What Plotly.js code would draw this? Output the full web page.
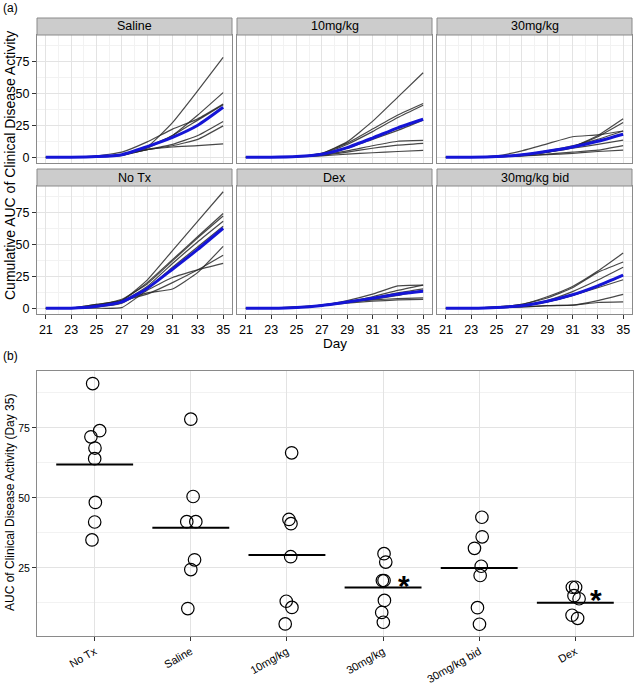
<!DOCTYPE html>
<html>
<head>
<meta charset="utf-8">
<script src="https://cdn.plot.ly/plotly-3.0.1.min.js"></script>
<style>html,body{margin:0;padding:0;background:#fff;}#chart{width:634px;height:684px;}</style>
</head>
<body>
<div id="chart"></div>
<script>
// ---------------- DATA ----------------
const days = [21, 23, 25, 27, 29, 31, 33, 35];

const panelNames = ["Saline", "10mg/kg", "30mg/kg", "No Tx", "Dex", "30mg/kg bid"];

const salineCurves = [
  [0, 0, 0.3, 1.5, 8, 27, 52, 78],
  [0, 0, 0.5, 2, 7, 17, 33, 50.5],
  [0, 0, 1, 4, 12, 22, 30, 41.5],
  [0, 0, 0.5, 2, 8, 17, 29, 41],
  [0, 0, 0.5, 2, 6, 10, 17, 28],
  [0, 0, 0.5, 1.5, 6, 9, 14, 24.5],
  [0, 0, 0.5, 2, 6, 8, 9, 10.5]
];
const salineMean = [0, 0, 0.5, 2, 8.3, 15.5, 25, 39];

const mg10Curves = [
  [0, 0, 0.5, 3, 12, 28, 47, 66],
  [0, 0, 0.5, 3, 11, 22, 33, 42],
  [0, 0, 0.5, 2.5, 10, 20, 31, 40.6],
  [0, 0, 0.5, 2, 7, 14, 21, 29],
  [0, 0, 0.5, 2, 5, 9, 12.5, 13.1],
  [0, 0, 0.5, 1.5, 4, 7, 9.5, 10.9],
  [0, 0, 0.3, 1, 2.5, 3.5, 4.5, 5.3]
];
const mg10Mean = [0, 0, 0.5, 2.3, 7.5, 15, 23, 29.7];

const mg30Curves = [
  [0, 0, 0.5, 1.5, 4, 8, 17, 30.1],
  [0, 0, 0.5, 1.5, 4, 8, 16, 27.1],
  [0, 0, 1, 5, 10.5, 16, 17.5, 20.5],
  [0, 0, 0.5, 2, 5, 9, 14, 20.5],
  [0, 0, 0.5, 2, 4, 7, 10, 13.4],
  [0, 0, 0.3, 1, 2.5, 4, 5.5, 9.1],
  [0, 0, 0.3, 1, 2, 3, 4.5, 5.6]
];
const mg30Mean = [0, 0, 0.5, 2, 4.7, 8, 12.5, 18];

const noTxCurves = [
  [0, 0, 2, 6, 22, 45, 68, 91],
  [0, 0, 3, 6, 20, 38, 56, 74],
  [0, 0, 2, 7, 19, 37, 55, 72],
  [0, 0, 1, 5, 17, 35, 52, 68],
  [0, 0, 1, 4, 15, 32, 48, 64],
  [0, 0, 2, 6, 12, 15, 28, 48.4],
  [0, 0, 3, 6, 11, 20, 30, 41.4],
  [0, 0, 0, 0.5, 14, 24, 30, 35]
];
const noTxMean = [0, 0, 1.5, 5, 15.5, 30.5, 46, 62.5];

const dexCurves = [
  [0, 0, 1, 2.5, 6, 11, 17.5, 18.1],
  [0, 0, 0.5, 2, 5, 9, 14, 18.1],
  [0, 0, 1, 2.5, 5, 8, 12, 15.1],
  [0, 0, 0.5, 2, 4.5, 7, 10, 14],
  [0, 0, 0.5, 2.5, 5, 6.5, 7.5, 8.1],
  [0, 0, 0.5, 2, 4, 5.5, 6.5, 7]
];
const dexMean = [0, 0, 0.6, 2.2, 4.9, 7.8, 11, 13.2];

const bidCurves = [
  [0, 0, 1, 3, 9, 17, 29, 43.1],
  [0, 0, 1, 3, 8, 16, 28, 36.1],
  [0, 0, 0.5, 2, 6, 13, 22, 32],
  [0, 0, 0.5, 2, 5, 10, 17, 25.6],
  [0, 0, 0.5, 2, 5, 10, 16, 22.3],
  [0, 0, 0.5, 1, 2, 2.5, 6, 10.8],
  [0, 0, 0.5, 1, 2, 2.5, 4.5, 4.9]
];
const bidMean = [0, 0, 0.6, 2, 5.5, 10.5, 17.5, 25.8];

// bottom panel (Day 35 AUC)
const groups = ["No Tx", "Saline", "10mg/kg", "30mg/kg", "30mg/kg bid", "Dex"];
const auc35 = [
  [90.8, 74, 71.8, 67.8, 64, 48.4, 41.4, 35],
  [78.1, 50.5, 41.5, 41.5, 27.9, 24.4, 10.5],
  [66.1, 42.3, 40.8, 29, 13.1, 10.9, 5],
  [30.1, 27.1, 20.5, 20.5, 13.4, 9.1, 5.6],
  [43.1, 36.1, 32, 25.6, 22.3, 10.8, 4.9],
  [18.1, 18.1, 15.1, 14, 8.1, 7]
];
const jitter = [
  [-0.021, 0.052, -0.039, 0.003, 0, 0.007, 0, -0.028],
  [0, 0.024, -0.042, 0.052, 0.039, 0, -0.031],
  [0.049, 0.021, 0.042, 0.039, -0.007, 0.052, -0.018],
  [0.010, 0.028, -0.007, 0.010, 0.014, -0.014, 0.003],
  [0.028, 0.031, -0.049, 0.021, 0.010, -0.018, 0.003],
  [-0.031, 0.003, -0.014, 0.039, -0.034, 0.024]
];
const groupMeans = [61.9, 39.3, 29.6, 18.0, 25.0, 12.6];
const significant = ["30mg/kg", "Dex"];
const starY = [21.4, 16.1];

// ---------------- LAYOUT HELPERS ----------------
const W = 634, H = 684;
const px = v => v / W;
const py = v => 1 - v / H;

const colsPx = [[37, 232], [237, 432], [437, 632]];
const rowsPx = [[35, 163], [186, 314]];
const stripH = 17;

const panelCurves = [salineCurves, mg10Curves, mg30Curves, noTxCurves, dexCurves, bidCurves];
const panelMeans = [salineMean, mg10Mean, mg30Mean, noTxMean, dexMean, bidMean];

const font = "Liberation Sans, Arial, sans-serif";
const traces = [];
const layout = {
  width: W, height: H,
  margin: {l: 0, r: 0, t: 0, b: 0},
  paper_bgcolor: "#fff", plot_bgcolor: "#fff",
  showlegend: false,
  font: {family: font, color: "#000"},
  shapes: [], annotations: []
};

for (let p = 0; p < 6; p++) {
  const r = Math.floor(p / 3), c = p % 3;
  const n = p + 1;
  const xa = "xaxis" + (n === 1 ? "" : n), ya = "yaxis" + (n === 1 ? "" : n);
  const xr = "x" + (n === 1 ? "" : n), yr = "y" + (n === 1 ? "" : n);
  layout[xa] = {
    domain: [px(colsPx[c][0]), px(colsPx[c][1])],
    anchor: yr, range: [20.3, 35.7],
    tick0: 21, dtick: 2,
    showgrid: true, gridcolor: "#e3e3e3", gridwidth: 1,
    minor: {dtick: 1, tick0: 21, showgrid: true, gridcolor: "#f2f2f2", gridwidth: 1},
    zeroline: false,
    showline: true, mirror: true, linecolor: "#8a8a8a", linewidth: 1,
    showticklabels: r === 1, ticks: r === 1 ? "outside" : "", ticklen: 4, tickcolor: "#333",
    tickfont: {size: 12.5, color: "#000", family: font}
  };
  layout[ya] = {
    domain: [py(rowsPx[r][1]), py(rowsPx[r][0])],
    anchor: xr, range: [-4.5, 95.5],
    tick0: 0, dtick: 25,
    showgrid: true, gridcolor: "#e3e3e3", gridwidth: 1,
    minor: {dtick: 12.5, tick0: 0, showgrid: true, gridcolor: "#f2f2f2", gridwidth: 1},
    zeroline: false,
    showline: true, mirror: true, linecolor: "#8a8a8a", linewidth: 1,
    showticklabels: c === 0, ticks: c === 0 ? "outside" : "", ticklen: 4, tickcolor: "#333",
    tickfont: {size: 12.5, color: "#000", family: font}
  };
  panelCurves[p].forEach(curve => {
    traces.push({x: days, y: curve, xaxis: xr, yaxis: yr, type: "scatter", mode: "lines",
      line: {color: "rgba(40,40,40,0.85)", width: 1.2, shape: "spline", smoothing: 0.4}, hoverinfo: "skip"});
  });
  traces.push({x: days, y: panelMeans[p], xaxis: xr, yaxis: yr, type: "scatter", mode: "lines",
    line: {color: "#1515d6", width: 3, shape: "spline", smoothing: 0.6}, hoverinfo: "skip"});

  // strip
  const sTop = rowsPx[r][0] - stripH;
  layout.shapes.push({type: "rect", xref: "paper", yref: "paper",
    x0: px(colsPx[c][0]), x1: px(colsPx[c][1]), y0: py(rowsPx[r][0]), y1: py(sTop),
    fillcolor: "#cccccc", line: {color: "#8a8a8a", width: 1}, layer: "above"});
  layout.annotations.push({xref: "paper", yref: "paper",
    x: px((colsPx[c][0] + colsPx[c][1]) / 2), y: py(sTop + stripH / 2),
    text: panelNames[p], showarrow: false, xanchor: "center", yanchor: "middle",
    font: {size: 12.5, color: "#000", family: font}});
}

// bottom panel axes
layout.xaxis7 = {
  domain: [px(37), px(633)], anchor: "y7", range: [-0.6, 5.6],
  tickvals: groups.map((g, i) => i), ticktext: groups, tickangle: -30,
  showgrid: true, gridcolor: "#e3e3e3", zeroline: false,
  showline: true, mirror: true, linecolor: "#8a8a8a", linewidth: 1,
  ticks: "outside", ticklen: 4, tickcolor: "#333",
  tickfont: {size: 11, color: "#000", family: font}
};
layout.yaxis7 = {
  domain: [py(636), py(371)], anchor: "x7", range: [0.7, 95.3],
  tick0: 0, dtick: 25,
  showgrid: true, gridcolor: "#e3e3e3",
  minor: {dtick: 12.5, tick0: 0, showgrid: true, gridcolor: "#f2f2f2"},
  zeroline: false,
  showline: true, mirror: true, linecolor: "#8a8a8a", linewidth: 1,
  ticks: "outside", ticklen: 4, tickcolor: "#333",
  tickfont: {size: 10.5, color: "#000", family: font}
};

groups.forEach((g, i) => {
  traces.push({
    x: auc35[i].map((v, k) => i + jitter[i][k]), y: auc35[i],
    xaxis: "x7", yaxis: "y7", type: "scatter", mode: "markers",
    marker: {symbol: "circle-open", size: 12.5, color: "#000", line: {width: 1.2, color: "#000"}},
    hoverinfo: "skip"
  });
  traces.push({
    x: [i - 0.4, i + 0.4], y: [groupMeans[i], groupMeans[i]],
    xaxis: "x7", yaxis: "y7", type: "scatter", mode: "lines",
    line: {color: "#000", width: 2}, hoverinfo: "skip"
  });
});

significant.forEach((g, k) => {
  const i = groups.indexOf(g);
  layout.annotations.push({xref: "x7", yref: "y7", x: i + 0.22, y: starY[k],
    text: "<b>*</b>", showarrow: false, xanchor: "center", yanchor: "middle", yshift: -7,
    font: {size: 30, color: "#000", family: font}});
});

// titles / labels
layout.annotations.push(
  {xref: "paper", yref: "paper", x: px(1), y: py(8), text: "(a)", showarrow: false,
   xanchor: "left", yanchor: "middle", font: {size: 12, color: "#000", family: font}},
  {xref: "paper", yref: "paper", x: px(1), y: py(356), text: "(b)", showarrow: false,
   xanchor: "left", yanchor: "middle", font: {size: 12, color: "#000", family: font}},
  {xref: "paper", yref: "paper", x: px(335), y: py(343), text: "Day", showarrow: false,
   xanchor: "center", yanchor: "middle", font: {size: 13.5, color: "#000", family: font}},
  {xref: "paper", yref: "paper", x: px(10), y: py(166), text: "Cumulative AUC of Clinical Disease Activity",
   showarrow: false, textangle: -90, xanchor: "center", yanchor: "middle",
   font: {size: 14, color: "#000", family: font}},
  {xref: "paper", yref: "paper", x: px(10), y: py(503), text: "AUC of Clinical Disease Activity (Day 35)",
   showarrow: false, textangle: -90, xanchor: "center", yanchor: "middle",
   font: {size: 12, color: "#000", family: font}}
);

Plotly.newPlot("chart", traces, layout, {staticPlot: true, displayModeBar: false});
</script>
</body>
</html>
